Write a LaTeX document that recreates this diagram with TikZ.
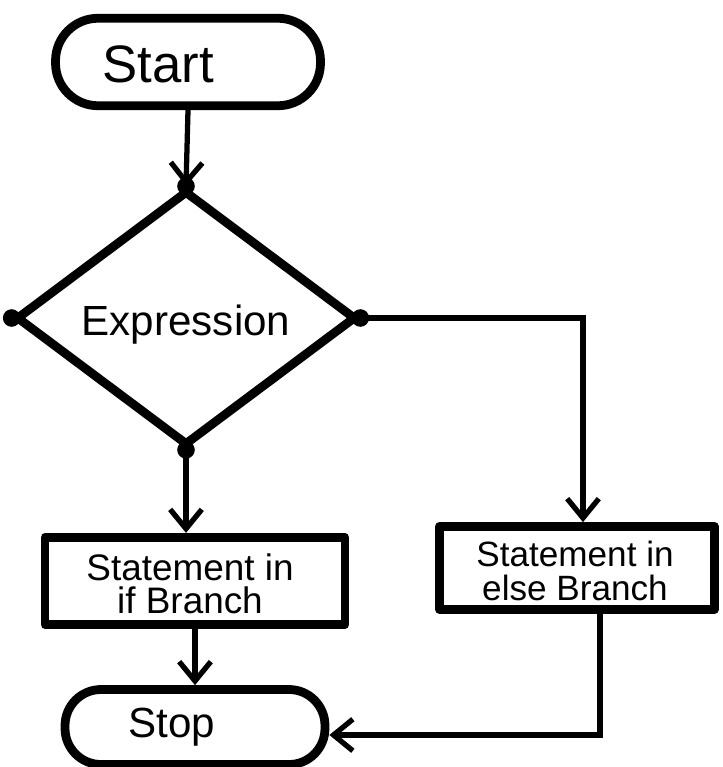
\documentclass[tikz,border=0pt]{standalone}
\usepackage{fontspec}
\setmainfont{Liberation Sans}
\usetikzlibrary{shapes.geometric,arrows.meta}
\begin{document}
\begin{tikzpicture}[x=0.02cm,y=-0.02cm,
  outline/.style={draw=black,line width=5pt,line join=round},
  term/.style={outline,rectangle,minimum width=5.3cm,minimum height=1.75cm,rounded corners=0.85cm,inner sep=0pt},
  procbox/.style={outline,rectangle,inner sep=0pt},
  decision/.style={outline,diamond,inner sep=0pt},
  txt/.style={inner sep=0pt,align=center},
  conn/.style={draw=black,line width=3pt,-{Straight Barb[length=11pt,width=18pt,line width=3pt]}},
  plain/.style={draw=black,line width=3.5pt}]
\fill[white] (0,0) rectangle (723,767);
\useasboundingbox (0,0) rectangle (723,767);
% shapes
\node[term] (start) at (188,62) {};
\node[txt,font=\fontsize{30}{30}\selectfont] (starttxt) at (158,64) {Start};
\node[decision,minimum width=6.8cm,minimum height=5.1cm] (dia) at (186,318) {};
\node[txt,font=\fontsize{24}{24}\selectfont] (diatxt) at (186,325) {Expression};
\node[procbox,minimum width=6.0cm,minimum height=1.75cm] (ifb) at (195,581) {};
\node[txt,font=\fontsize{21}{19}\selectfont] (iftxt) at (190,584) {Statement in\\if Branch};
\node[procbox,minimum width=5.5cm,minimum height=1.66cm] (elseb) at (577,568) {};
\node[txt,font=\fontsize{20}{19}\selectfont] (elsetxt) at (575,571) {Statement in\\else Branch};
\node[term,minimum width=5.2cm,minimum height=1.5cm,rounded corners=0.72cm] (stop) at (195,727) {};
\node[txt,font=\fontsize{24}{24}\selectfont] (stoptxt) at (172,727) {Stop};
% vertex blobs
\foreach \a in {north,south,east,west} \fill (dia.\a) circle (5pt);
% connectors
\draw[conn] (start.south) -- (dia.north);
\draw[conn] (dia.south) -- (dia.south |- ifb.north);
\draw[conn] (dia.east) -| ([xshift=0.12cm]elseb.north);
\draw[conn] (ifb.south) -- (stop.north);
\draw[conn] ([xshift=0.46cm]elseb.south) |- ([yshift=-0.16cm]stop.east);
\end{tikzpicture}
\end{document}
